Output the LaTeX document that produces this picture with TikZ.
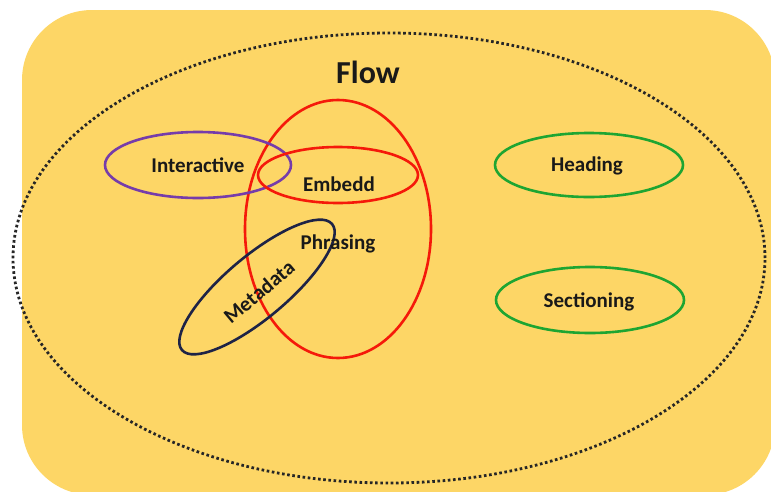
\documentclass[tikz,border=0pt]{standalone}
\usepackage{fontspec}
\setmainfont{Carlito}
\usetikzlibrary{shapes.geometric}
\definecolor{bgyellow}{RGB}{253,214,102}
\definecolor{setpurple}{RGB}{118,60,170}
\definecolor{setred}{RGB}{245,25,10}
\definecolor{setgreen}{RGB}{30,165,50}
\definecolor{setnavy}{RGB}{30,35,70}
\tikzset{
  setring/.style={ellipse, draw, line width=2.6pt, inner sep=0pt},
  setlabel/.style={font=\fontsize{21}{25}\selectfont\bfseries, text=black!90, inner sep=0pt},
}
\begin{document}
\begin{tikzpicture}[x=1pt,y=-1pt]
\useasboundingbox (0,0) rectangle (771,491);
\begin{scope}
\clip (0,0) rectangle (771,491);
\fill[bgyellow, rounded corners=70pt] (22,10) rectangle (775,495);
\end{scope}
\node[ellipse, draw=black!85, line width=2.8pt, dash pattern=on 2.6pt off 2.6pt,
  minimum width=752pt, minimum height=450pt, inner sep=0pt] (flowset) at (389,258) {};
\node[font=\fontsize{32}{36}\selectfont\bfseries, text=black!90, inner sep=0pt] (flow) at (368,72) {Flow};
% Phrasing
\node[setring, draw=setred, minimum width=186pt, minimum height=258pt] (phrasing) at (338,229) {};
% Interactive
\node[setring, draw=setpurple, minimum width=186pt, minimum height=66pt] (interactive) at (198,165) {};
% Embedded
\node[setring, draw=setred, minimum width=160pt, minimum height=56pt] (embedd) at (338,175) {};
% Metadata
\node[setring, draw=setnavy, minimum width=196pt, minimum height=62pt, rotate=40] (metadata) at (257,287) {};
% Heading
\node[setring, draw=setgreen, minimum width=188pt, minimum height=64pt] (heading) at (589,165) {};
% Sectioning
\node[setring, draw=setgreen, minimum width=188pt, minimum height=66pt] (sectioning) at (590,300) {};
% labels
\node[setlabel] (interactivelbl) at (198,165) {Interactive};
\node[setlabel] (embeddlbl) at (339,184) {Embedd};
\node[setlabel] (phrasinglbl) at (338,244) {Phrasing};
\node[setlabel, rotate=40] (metadatalbl) at (259,292) {Metadata};
\node[setlabel] (headinglbl) at (587,166) {Heading};
\node[setlabel] (sectioninglbl) at (589,302) {Sectioning};
\end{tikzpicture}
\end{document}
